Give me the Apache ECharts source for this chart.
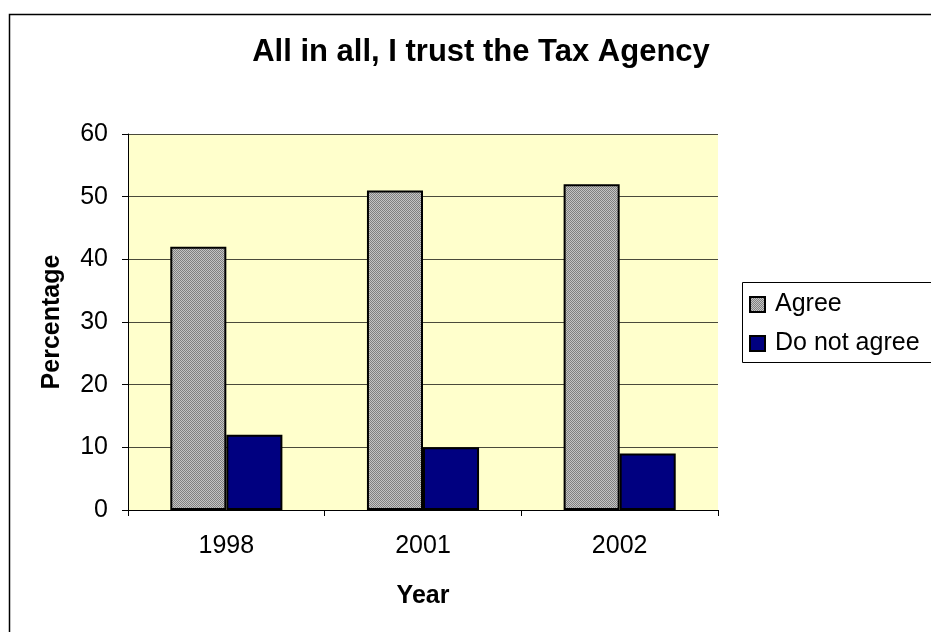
<!DOCTYPE html>
<html>
<head>
<meta charset="utf-8">
<style>
  html, body { margin: 0; padding: 0; background: #ffffff; }
  #chart { width: 931px; height: 632px; }
</style>
<script src="https://cdn.jsdelivr.net/npm/echarts@6/dist/echarts.min.js"></script>
</head>
<body>
<div id="chart"></div>
<script>
// Survey results: "All in all, I trust the Tax Agency"
const years = ['1998', '2001', '2002'];
const agree = [42, 51, 52];
const doNotAgree = [12, 10, 9];
const yTicks = [0, 10, 20, 30, 40, 50, 60];

// Fine grey dither used as the fill of the "Agree" bars
function ditherPattern() {
  const c = document.createElement('canvas');
  c.width = 2; c.height = 2;
  const g = c.getContext('2d');
  g.fillStyle = '#c4c4c4'; g.fillRect(0, 0, 2, 2);
  g.fillStyle = '#808080'; g.fillRect(0, 0, 1, 1); g.fillRect(1, 1, 1, 1);
  return c;
}

const font = 'Arial, "Liberation Sans", Helvetica, sans-serif';
const chart = echarts.init(document.getElementById('chart'), null, { renderer: 'canvas' });

chart.setOption({
  backgroundColor: '#ffffff',
  animation: false,
  title: {
    text: 'All in all, I trust the Tax Agency',
    left: 481, top: 37, textAlign: 'center', padding: 0,
    textStyle: { fontFamily: font, fontSize: 31, fontWeight: 'bold', color: '#000' }
  },
  graphic: [
    { type: 'rect', left: 7, top: 12, shape: { width: 940, height: 640 },
      style: { fill: 'none', stroke: '#000', lineWidth: 1.5 }, z: -1 },
    { type: 'rect', left: 742, top: 282, shape: { width: 200, height: 80 },
      style: { fill: '#fff', stroke: '#000', lineWidth: 1 }, z: 0 }
  ],
  legend: {
    orient: 'vertical', left: 749, top: 292,
    itemWidth: 15, itemHeight: 15, itemGap: 14,
    icon: 'rect', padding: 0,
    textStyle: { fontFamily: font, fontSize: 25, color: '#000', padding: [0, 0, 0, 5] },
    data: ['Agree', 'Do not agree'],
    z: 5
  },
  grid: {
    left: 128, right: 213, top: 134, bottom: 122,
    show: true, backgroundColor: '#FFFFCC', borderWidth: 0
  },
  xAxis: {
    type: 'category', data: years, boundaryGap: true,
    name: 'Year', nameLocation: 'middle', nameGap: 74,
    nameTextStyle: { fontFamily: font, fontSize: 25, fontWeight: 'bold', color: '#000' },
    axisLine: { lineStyle: { color: '#000', width: 1 } },
    axisTick: { show: true, length: 6, alignWithLabel: false, lineStyle: { color: '#000' } },
    axisLabel: { fontFamily: font, fontSize: 25, color: '#000', margin: 24 }
  },
  yAxis: {
    type: 'value', min: 0, max: 60, interval: 10,
    name: 'Percentage', nameLocation: 'middle', nameGap: 63,
    nameTextStyle: { fontFamily: font, fontSize: 25, fontWeight: 'bold', color: '#000' },
    axisLine: { show: true, lineStyle: { color: '#000', width: 1 } },
    axisTick: { show: true, length: 6, lineStyle: { color: '#000' } },
    axisLabel: {
      fontFamily: font, fontSize: 25, color: '#000', margin: 20,
      formatter: v => (yTicks.includes(v) ? String(v) : '')
    },
    splitLine: { show: true, lineStyle: { color: '#4a4a3a', width: 1 } }
  },
  series: [
    {
      name: 'Agree', type: 'bar', data: agree,
      barGap: '0%', barCategoryGap: '43%',
      itemStyle: { color: { image: ditherPattern(), repeat: 'repeat' }, borderColor: '#000', borderWidth: 2 }
    },
    {
      name: 'Do not agree', type: 'bar', data: doNotAgree,
      itemStyle: { color: '#000080', borderColor: '#000', borderWidth: 2 }
    }
  ]
});
</script>
</body>
</html>
